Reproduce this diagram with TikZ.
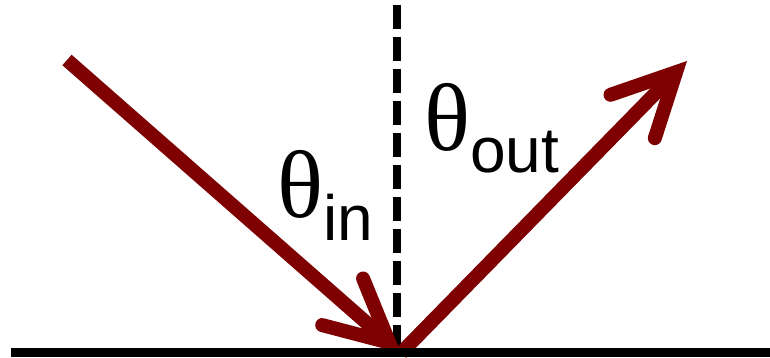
\documentclass[tikz,border=0pt]{standalone}
\usepackage{fontspec}
\setmainfont{Liberation Sans}
\newfontfamily\greekfont{Liberation Serif}
\usepackage{tikz}
\usetikzlibrary{positioning,arrows.meta}
\definecolor{ray}{HTML}{7F0000}

\begin{document}
\begin{tikzpicture}[x=0.5pt, y=-0.5pt,
      beam/.style={draw=ray, line width=7pt,
      -{Straight Barb[length=31pt, width=31pt, line cap=round, line join=miter]}},
      normal/.style={line width=4pt, dash pattern=on 12pt off 4pt},
      surface/.style={line width=4.5pt},
      angle/.style={inner sep=0pt, anchor=base west},
    ]
    \useasboundingbox (0,0) rectangle (770,358);
    \coordinate (src) at (67,60);
    \coordinate (hit) at (401,353);
    \coordinate (dst) at (687,61);
    \coordinate (nt) at (397,5);
    \coordinate (nb) at (397,348);
    \coordinate (gl) at (11,352.5);
    \coordinate (gr) at (770,352.5);

    \draw[normal] (nt) -- (nb);
    \draw[beam] (src) -- (hit);
    \draw[beam] (hit) -- (dst);
    \draw[surface] (gl) -- (gr);

    % Labels
    \node[angle] (thin) at (277,217) {\fontsize{48}{48}\greekfont θ\raisebox{-11.5pt}{\rmfamily\fontsize{32}{32}\selectfont in}};
    \node[angle] (thout) at (424,150) {\fontsize{48}{48}\greekfont θ\raisebox{-11pt}{\rmfamily\fontsize{32}{32}\selectfont out}};
  \end{tikzpicture}
\end{document}
